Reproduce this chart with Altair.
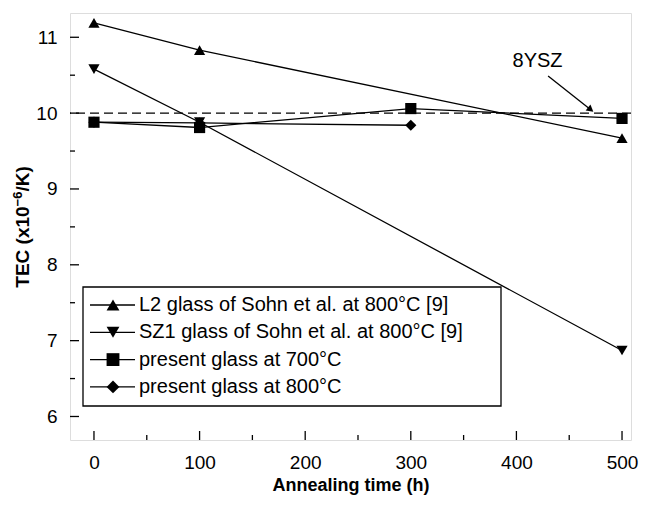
import altair as alt
import pandas as pd

# ---------------- data ----------------
hours_l2 = [0, 100, 500]
tec_l2 = [11.19, 10.83, 9.67]
hours_sz1 = [0, 100, 500]
tec_sz1 = [10.58, 9.88, 6.87]
hours_700 = [0, 100, 300, 500]
tec_700 = [9.88, 9.81, 10.06, 9.93]
hours_800 = [0, 100, 300]
tec_800 = [9.88, 9.87, 9.84]

series_names = [
    "L2 glass of Sohn et al. at 800°C [9]",
    "SZ1 glass of Sohn et al. at 800°C [9]",
    "present glass at 700°C",
    "present glass at 800°C",
]
series_shapes = ["triangle-up", "triangle-down", "square", "diamond"]

ysz_tec = 10.0
ysz_label = "8YSZ"
ysz_label_pos = [420, 10.69]       # hours, TEC
ysz_arrow_from = [430, 10.49]
ysz_arrow_to = [469.5, 10.055]

x_major = [0, 100, 200, 300, 400, 500]
x_minor = [50, 150, 250, 350, 450]
y_major = [6, 7, 8, 9, 10, 11]
y_minor = [6.5, 7.5, 8.5, 9.5, 10.5]

x_title = "Annealing time (h)"
y_title_parts = ["TEC (x10", "−6", "/K)"]

# ---------------- build tables ----------------
rows = []
for name, hs, ts in zip(series_names,
                        [hours_l2, hours_sz1, hours_700, hours_800],
                        [tec_l2, tec_sz1, tec_700, tec_800]):
    for h, t in zip(hs, ts):
        rows.append({"series": name, "hours": h, "tec": t})
df = pd.DataFrame(rows)

W, H = 561, 427
FONT = "Liberation Sans"
LW = 1.3

xs = alt.Scale(domain=[-22.7, 508.5], nice=False, zero=False)
ys = alt.Scale(domain=[5.69, 11.32], nice=False, zero=False)

xa = alt.Axis(values=x_major, title=x_title, ticks=False, domain=False, grid=False,
              labelPadding=13, labelFontSize=19, titleFontSize=18, titleFontWeight="bold",
              titlePadding=4, labelColor="black", titleColor="black", format="d")
ya = alt.Axis(values=y_major, title=None, ticks=False, domain=False, grid=False,
              labelPadding=13, labelFontSize=19, labelColor="black", format="d")

shape_scale = alt.Scale(domain=series_names, range=series_shapes)

lines = alt.Chart(df).mark_line(color="black", strokeWidth=LW).encode(
    x=alt.X("hours:Q", scale=xs, axis=xa),
    y=alt.Y("tec:Q", scale=ys, axis=ya),
    detail="series:N",
)

points = alt.Chart(df).mark_point(filled=True, color="black", opacity=1).encode(
    x=alt.X("hours:Q", scale=xs, axis=xa),
    y=alt.Y("tec:Q", scale=ys, axis=ya),
    shape=alt.Shape("series:N", scale=shape_scale, legend=None),
    size=alt.Size("series:N", scale=alt.Scale(domain=series_names, range=[125, 125, 90, 115]), legend=None),
)

ysz_line = alt.Chart(pd.DataFrame({"tec": [ysz_tec]})).mark_rule(
    color="black", strokeWidth=LW, strokeDash=[9, 5]
).encode(y=alt.Y("tec:Q", scale=ys, axis=ya))

ann_text = alt.Chart(pd.DataFrame({"hours": [ysz_label_pos[0]], "tec": [ysz_label_pos[1]], "t": [ysz_label]})).mark_text(
    font=FONT, fontSize=20, color="black", align="center", baseline="middle"
).encode(x=alt.X("hours:Q", scale=xs, axis=xa), y=alt.Y("tec:Q", scale=ys, axis=ya), text="t:N")

ann_arrow = alt.Chart(pd.DataFrame({
    "hours": [ysz_arrow_from[0]], "tec": [ysz_arrow_from[1]],
    "hours2": [ysz_arrow_to[0]], "tec2": [ysz_arrow_to[1]]})).mark_rule(color="black", strokeWidth=LW).encode(
    x=alt.X("hours:Q", scale=xs, axis=xa), y=alt.Y("tec:Q", scale=ys, axis=ya),
    x2="hours2:Q", y2="tec2:Q")

ann_head = alt.Chart(pd.DataFrame({"hours": [ysz_arrow_to[0]], "tec": [ysz_arrow_to[1]]})).mark_point(
    shape="triangle", angle=128, size=60, filled=True, color="black", opacity=1
).encode(x=alt.X("hours:Q", scale=xs, axis=xa), y=alt.Y("tec:Q", scale=ys, axis=ya))

# inward ticks
def xticks(vals, length):
    return alt.Chart(pd.DataFrame({"v": vals})).mark_rule(color="black", strokeWidth=LW).encode(
        x=alt.X("v:Q", scale=xs, axis=xa), y=alt.value(H), y2=alt.value(H - length))

def yticks(vals, length):
    return alt.Chart(pd.DataFrame({"v": vals})).mark_rule(color="black", strokeWidth=LW).encode(
        y=alt.Y("v:Q", scale=ys, axis=ya), x=alt.value(0), x2=alt.value(length))

# y-axis title with a real superscript (three rotated text pieces)
TS, SS = 19, 13
w1 = 4.279 * TS          # width of "TEC (x10" in Arial-metric bold
w2 = 1.14 * SS           # width of "−6"
w3 = 1.333 * TS          # width of "/K)"
yc = 214
ybot = yc + (w1 + w2 + w3) / 2
XB = -41

def ytitle_piece(txt, ypos, xpos, size):
    return alt.Chart(pd.DataFrame({"t": [txt]})).mark_text(
        font=FONT, fontSize=size, fontWeight="bold", color="black",
        angle=270, align="left", baseline="alphabetic"
    ).encode(x=alt.value(xpos), y=alt.value(ypos), text="t:N")

ytitle = [
    ytitle_piece(y_title_parts[0], ybot, XB, TS),
    ytitle_piece(y_title_parts[1], ybot - w1, XB - 7, SS),
    ytitle_piece(y_title_parts[2], ybot - w1 - w2, XB, TS),
]

# legend (drawn by hand)
LEG_X0, LEG_X1, LEG_Y0, LEG_Y1 = 13, 431, 274, 393
ROW0, ROWSTEP = 292, 27.3
leg_df = pd.DataFrame({"series": series_names, "row": list(range(len(series_names)))})

leg_box = alt.Chart(pd.DataFrame({"a": [0]})).mark_rect(
    fill="white", stroke="black", strokeWidth=LW
).encode(x=alt.value(LEG_X0), x2=alt.value(LEG_X1), y=alt.value(LEG_Y0), y2=alt.value(LEG_Y1))

leg_base = alt.Chart(leg_df).transform_calculate(py=f"{ROW0} + {ROWSTEP} * datum.row")
leg_lines = leg_base.mark_rule(color="black", strokeWidth=LW).encode(
    x=alt.value(20), x2=alt.value(65), y=alt.Y("py:Q", scale=None))
leg_pts = leg_base.mark_point(filled=True, color="black", opacity=1).encode(
    x=alt.value(43), y=alt.Y("py:Q", scale=None),
    shape=alt.Shape("series:N", scale=shape_scale, legend=None),
    size=alt.Size("series:N", scale=alt.Scale(domain=series_names, range=[165, 165, 105, 150]), legend=None))
leg_text = leg_base.mark_text(font=FONT, fontSize=20, color="black", align="left", baseline="middle").encode(
    x=alt.value(69), y=alt.Y("py:Q", scale=None), text="series:N")

chart = alt.layer(
    ysz_line, lines, points, ann_arrow, ann_head, ann_text,
    xticks(x_major, 9), xticks(x_minor, 5), yticks(y_major, 9), yticks(y_minor, 5),
    *ytitle,
    leg_box, leg_lines, leg_pts, leg_text,
).resolve_scale(size="independent").properties(
    width=W, height=H,
    autosize=alt.AutoSizeParams(type="none"),
    padding={"left": 62, "top": 5, "right": 8, "bottom": 57},
).configure_view(
    stroke="black", strokeWidth=LW
).configure_axis(
    labelFont=FONT, titleFont=FONT
).configure(background="white")

chart.save("out.html", embed_options={"renderer": "svg", "actions": False})
